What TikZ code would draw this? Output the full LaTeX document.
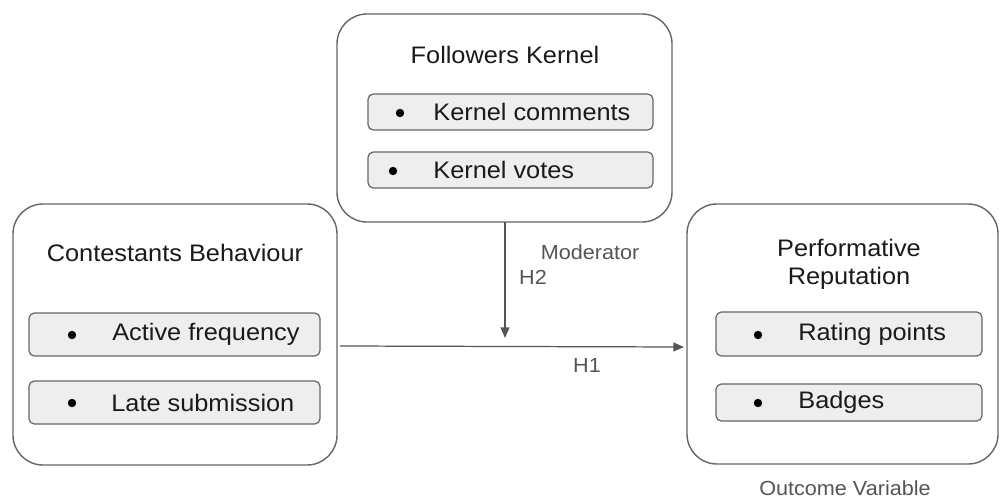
\documentclass[tikz,border=0pt]{standalone}
\usepackage{fontspec}
\setmainfont{Liberation Sans}[FakeStretch=1.06]
\usetikzlibrary{arrows.meta}
\definecolor{edgegray}{HTML}{666666}
\definecolor{linegray}{HTML}{555555}
\definecolor{fillgray}{HTML}{EEEEEE}
\definecolor{txt}{HTML}{1A1A1A}
\begin{document}
\begin{tikzpicture}[x=0.02cm,y=-0.02cm,
  outerbox/.style={draw=edgegray,line width=0.8pt,rounded corners=17pt,inner sep=0pt,fill=white},
  itembox/.style={draw=edgegray,line width=0.7pt,rounded corners=3pt,fill=fillgray,inner sep=0pt},
  titletext/.style={text=txt,font=\fontsize{13.6pt}{16pt}\selectfont,inner sep=0pt,align=center},
  itemtext/.style={text=txt,font=\fontsize{13.6pt}{16pt}\selectfont,inner sep=0pt,anchor=west},
  labeltext/.style={text=linegray,font=\fontsize{11.6pt}{14pt}\selectfont,inner sep=0pt},
  conn/.style={draw=linegray,line width=0.7pt,-{Triangle[length=6pt,width=5pt]}},
  bulletdot/.style={fill=black}
]
\useasboundingbox (0,0) rectangle (1000,500);

% Outer boxes
\node[outerbox,minimum width=335*0.02cm,minimum height=208*0.02cm] (fk) at (504.5,118) {};
\node[outerbox,minimum width=324*0.02cm,minimum height=261*0.02cm] (cb) at (175,334.5) {};
\node[outerbox,minimum width=311*0.02cm,minimum height=260*0.02cm] (pr) at (842.5,334) {};

% Titles
\node[titletext] (fkt) at (505,55) {Followers Kernel};
\node[titletext] (cbt) at (175,253) {Contestants Behaviour};
\node[titletext] (prt1) at (849,248) {Performative};
\node[titletext] (prt2) at (849,278) {Reputation};

% Items: Followers Kernel
\node[itembox,minimum width=285*0.02cm,minimum height=36*0.02cm] (i1) at (510.5,112) {};
\node[itembox,minimum width=285*0.02cm,minimum height=36*0.02cm] (i2) at (510.5,170) {};
\fill[bulletdot] (400,113) circle (4.2);
\fill[bulletdot] (393,171) circle (4.2);
\node[itemtext] (i1t) at (433,112) {Kernel comments};
\node[itemtext] (i2t) at (433,170) {Kernel votes};

% Items: Contestants Behaviour
\node[itembox,minimum width=291*0.02cm,minimum height=43*0.02cm] (i3) at (174.5,334.5) {};
\node[itembox,minimum width=291*0.02cm,minimum height=43*0.02cm] (i4) at (174.5,402.5) {};
\fill[bulletdot] (72,335) circle (4.2);
\fill[bulletdot] (72,403) circle (4.2);
\node[itemtext] (i3t) at (112,334.5) {Active frequency};
\node[itemtext] (i4t) at (111,402.5) {Late submission};

% Items: Performative Reputation
\node[itembox,minimum width=266*0.02cm,minimum height=44*0.02cm] (i5) at (849,334) {};
\node[itembox,minimum width=266*0.02cm,minimum height=37*0.02cm] (i6) at (849,402.5) {};
\fill[bulletdot] (758,335) circle (4.2);
\fill[bulletdot] (758,403) circle (4.2);
\node[itemtext] (i5t) at (798,334) {Rating points};
\node[itemtext] (i6t) at (798,402.5) {Badges};

% Connectors
\coordinate (cbe) at (340,346);
\coordinate (pre) at (684,347);
\coordinate (fks) at (505,222);
\coordinate (mid) at (505,338);
\draw[conn] (cbe) -- (pre);
\draw[conn] (fks) -- (mid);

% Labels
\node[labeltext] (mod) at (590,252) {Moderator};
\node[labeltext] (h2) at (533,277) {H2};
\node[labeltext] (h1) at (587,365) {H1};
\node[labeltext] (ov) at (845,488) {Outcome Variable};
\end{tikzpicture}
\end{document}
